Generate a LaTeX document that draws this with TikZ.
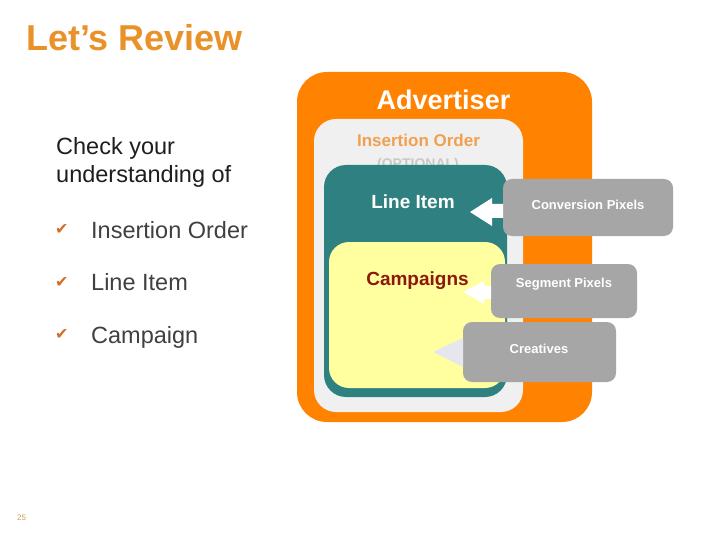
\documentclass[tikz,border=0pt]{standalone}
\usepackage{fontspec}
\setmainfont{Liberation Sans}
\newfontfamily\symfont{DejaVu Sans}
\definecolor{advorange}{RGB}{255,130,0}
\definecolor{titleorange}{RGB}{234,146,42}
\definecolor{ioorange}{RGB}{240,160,80}
\definecolor{iogray}{RGB}{240,240,240}
\definecolor{optgray}{RGB}{200,200,200}
\definecolor{teal}{RGB}{47,128,128}
\definecolor{paleyellow}{RGB}{255,255,160}
\definecolor{pixgray}{RGB}{166,166,166}
\definecolor{campred}{RGB}{140,25,10}
\definecolor{darktext}{RGB}{30,30,30}
\definecolor{itemtext}{RGB}{64,64,64}
\definecolor{checkorange}{RGB}{210,110,40}
\definecolor{pagenum}{RGB}{200,160,90}
\definecolor{tripale}{RGB}{230,230,238}
\begin{document}
\begin{tikzpicture}[x=1pt,y=-1pt,
  box/.style={rounded corners=#1, inner sep=0pt, outer sep=0pt},
  lbl/.style={inner sep=0pt, anchor=base},
  lblw/.style={inner sep=0pt, anchor=base west},
  chk/.style={inner sep=0pt, anchor=base west, text=checkorange, font=\symfont\fontsize{16}{18}\selectfont},
  blockarrow/.style={fill=white, draw=none}]
\useasboundingbox (0,0) rectangle (720,540);
\fill[white] (0,0) rectangle (720,540);

% title
\node[lblw, text=titleorange, font=\fontsize{36}{40}\selectfont\bfseries] (title) at (26,51) {Let’s Review};

% left text
\node[lblw, text=darktext, font=\fontsize{23.5}{28}\selectfont] (check1) at (56,155) {Check your};
\node[lblw, text=darktext, font=\fontsize{23.5}{28}\selectfont] (check2) at (56,183) {understanding of};
\node[chk] (ck1) at (55,234) {✔};
\node[chk] (ck2) at (55,287) {✔};
\node[chk] (ck3) at (55,339) {✔};
\node[lblw, text=itemtext, font=\fontsize{23.5}{28}\selectfont] (it1) at (91,238) {Insertion Order};
\node[lblw, text=itemtext, font=\fontsize{23.5}{28}\selectfont] (it2) at (91,290) {Line Item};
\node[lblw, text=itemtext, font=\fontsize{23.5}{28}\selectfont] (it3) at (91,343) {Campaign};

% nested boxes
\node[box=30pt, fill=advorange, minimum width=295pt, minimum height=350pt] (adv) at (444.5,247) {};
\node[box=22pt, fill=iogray, minimum width=209pt, minimum height=293pt] (io) at (418.5,265.5) {};
\node[lbl, text=optgray, font=\fontsize{14}{16}\selectfont\bfseries] (opt) at (418,169) {(OPTIONAL)};
\node[box=22pt, fill=teal, minimum width=183pt, minimum height=232pt] (li) at (415.5,281) {};
\node[box=20pt, fill=paleyellow, minimum width=176pt, minimum height=146pt] (camp) at (417,315) {};

\node[lbl, text=white, font=\fontsize{27}{30}\selectfont\bfseries] (advt) at (443.5,110) {Advertiser};
\node[lbl, text=ioorange, font=\fontsize{17}{20}\selectfont\bfseries] (iot) at (418.5,147) {Insertion Order};
\node[lbl, text=white, font=\fontsize{19}{22}\selectfont\bfseries] (lit) at (413,208) {Line Item};
\node[lbl, text=campred, font=\fontsize{19}{22}\selectfont\bfseries] (campt) at (417.5,285) {Campaigns};

% pixel boxes
\node[box=9pt, fill=pixgray, minimum width=170pt, minimum height=57pt] (conv) at (588,207.5) {};
\node[box=9pt, fill=pixgray, minimum width=146pt, minimum height=54pt] (seg) at (564,291) {};
\node[box=9pt, fill=pixgray, minimum width=153pt, minimum height=60pt] (crea) at (539.5,352) {};

% block arrows
\fill[blockarrow] (470,212) -- (492,198) -- (492,204) -- (conv.west |- 0,204) -- (conv.west |- 0,218) -- (492,218) -- (492,226) -- cycle;
\fill[blockarrow] (463,292) -- (484,281) -- (484,286) -- (seg.west |- 0,286) -- (seg.west |- 0,299) -- (484,299) -- (484,304) -- cycle;
\fill[tripale] (433,352) -- (crea.west |- 0,338) -- (crea.west |- 0,367) -- cycle;

\node[lbl, text=white, font=\fontsize{13}{15}\selectfont\bfseries] (convt) at (588,210) {Conversion Pixels};
\node[lbl, text=white, font=\fontsize{13}{15}\selectfont\bfseries] (segt) at (564,287) {Segment Pixels};
\node[lbl, text=white, font=\fontsize{13}{15}\selectfont\bfseries] (creat) at (539,353) {Creatives};

% page number
\node[lblw, text=pagenum, font=\fontsize{8}{9}\selectfont] (pg) at (17,520) {25};
\end{tikzpicture}
\end{document}
